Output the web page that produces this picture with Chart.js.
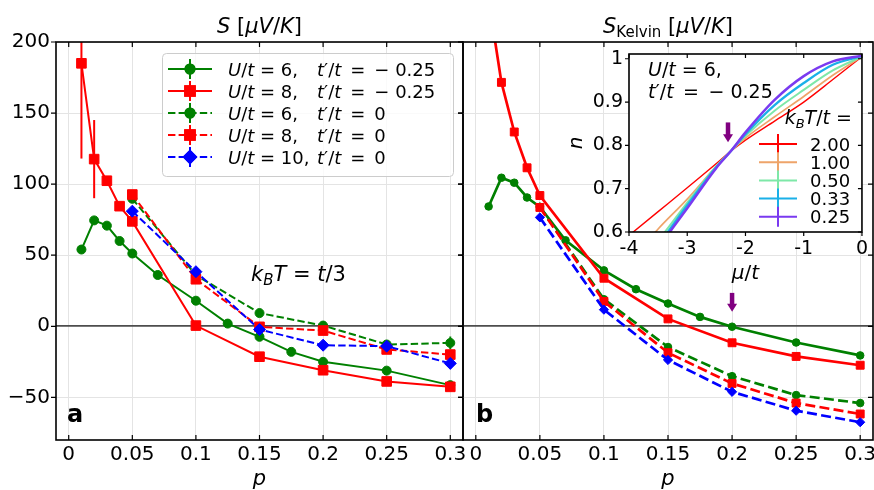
<!DOCTYPE html>
<html><head><meta charset="utf-8">
<script src="https://cdn.jsdelivr.net/npm/chart.js@4.4.1/dist/chart.umd.min.js"></script>
<style>
html,body{margin:0;padding:0;background:#fff;}
#wrap{position:relative;width:874px;height:490px;overflow:hidden;background:#fff;}
canvas{position:absolute;left:0;top:0;}
</style></head><body>
<div id="wrap">
<canvas id="cA" width="874" height="490"></canvas>
<canvas id="cB" width="900" height="490"></canvas>
<canvas id="cI" width="874" height="490"></canvas>
</div>
<script>
// ---------------- DATA ----------------
const xTicks = [0, 0.05, 0.1, 0.15, 0.2, 0.25, 0.3];
const xTickLabels = ['0', '0.05', '0.1', '0.15', '0.2', '0.25', '0.3'];
const yTicks = [-50, 0, 50, 100, 150, 200];
const yTickLabels = ['\u221250', '0', '50', '100', '150', '200'];

// panel a : S
const pS  = [0.01, 0.02, 0.03, 0.04, 0.05, 0.07, 0.1, 0.125, 0.15, 0.175, 0.2, 0.25, 0.3];
const pR  = [0.01, 0.02, 0.03, 0.04, 0.05, 0.1, 0.15, 0.2, 0.25, 0.3];
const pD  = [0.05, 0.1, 0.15, 0.2, 0.25, 0.3];
const sA_U6_tm  = [54, 74.5, 70.8, 60, 51.2, 36.1, 18, 1.9, -7.4, -18, -25, -31.2, -41.4];
const sA_U8_tm  = [185, 117.6, 102.4, 84.5, 73.8, 0.5, -21.4, -30.9, -38.8, -42.6];
const eA_U8_tm  = [67, 27.5, 0, 0, 0, 0, 0, 0, 0, 0];
const sA_U6_t0  = [89.7, 36, 9.3, 0.5, -12.8, -11.7];
const eA_U6_t0  = [0, 0, 0, 0, 1.5, 4.5];
const sA_U8_t0  = [92.7, 33.1, -0.4, -3, -16.3, -19.9];
const sA_U10_t0 = [81, 38.4, -2.3, -13.3, -14, -26.1];

// panel b : S_Kelvin
const sB_U6_tm  = [84.3, 104.5, 101, 90.6, 84, 60.5, 39.3, 26.1, 16, 6.6, -0.3, -11.4, -20.5];
const sB_U8_tm  = [230, 171.6, 136.7, 111.5, 92, 33.8, 5.2, -11.6, -21.2, -27.4];
const sB_U6_t0  = [84, 19, -14.6, -35.1, -48.4, -54];
const sB_U8_t0  = [83.6, 17.5, -18.6, -40.2, -54, -61.7];
const sB_U10_t0 = [76.6, 11.7, -23.7, -46.1, -59.4, -67.5];

// inset : n(mu)
const muTicks = [-4, -3, -2, -1, 0];
const muTickLabels = ['-4', '-3', '-2', '-1', '0'];
const nTicks = [0.6, 0.7, 0.8, 0.9, 1.0];
const nTickLabels = ['0.6', '0.7', '0.8', '0.9', '1'];
const mu = [-4, -3.5, -3, -2.5, -2.25, -2, -1.5, -1, -0.5, 0];
const n_T200 = [0.592, 0.647, 0.702, 0.758, 0.787, 0.812, 0.856, 0.900, 0.952, 1.005];
const n_T100 = [0.53, 0.607, 0.676, 0.752, 0.787, 0.817, 0.866, 0.913, 0.962, 1.005];
const n_T050 = [0.50, 0.58, 0.668, 0.752, 0.787, 0.822, 0.880, 0.928, 0.973, 1.005];
const n_T033 = [0.49, 0.57, 0.662, 0.750, 0.787, 0.826, 0.893, 0.944, 0.986, 1.006];
const n_T025 = [0.47, 0.563, 0.655, 0.748, 0.787, 0.830, 0.905, 0.960, 0.994, 1.007];
const tempLabels = ['2.00', '1.00', '0.50', '0.33', '0.25'];

// ---------------- HELPERS ----------------
const FAM = '"DejaVu Sans"';
const F = (size, it, bold) => `${it ? 'italic ' : ''}${bold ? 'bold ' : ''}${size}px ${FAM}`;
const zip = (xs, ys) => xs.map((x, i) => ({x: x, y: ys[i]}));
function rich(ctx, x, y, segs, align) {
  let w = 0;
  for (const s of segs) { ctx.font = s[1]; w += ctx.measureText(s[0]).width; }
  let cx = align === 'center' ? x - w / 2 : align === 'right' ? x - w : x;
  ctx.textAlign = 'left'; ctx.textBaseline = 'alphabetic'; ctx.fillStyle = '#000';
  for (const s of segs) { ctx.font = s[1]; ctx.fillText(s[0], cx, y + (s[2] || 0)); cx += ctx.measureText(s[0]).width; }
}
function setTicks(vals) { return s => { s.ticks = vals.map(v => ({value: v})); }; }

const GREEN = '#008000', RED = '#ff0000', BLUE = '#0000ff';

function series(xs, ys, color, style, dashed, r, lw, dash, order, err) {
  return {
    data: zip(xs, ys), borderColor: color, backgroundColor: color,
    borderWidth: lw, borderDash: dashed ? dash : [],
    pointStyle: style, pointRadius: r, pointBackgroundColor: color, pointBorderColor: color,
    pointBorderWidth: 1, tension: 0, order: order, errorBars: err || null, fill: false
  };
}

const errorBarPlugin = {
  id: 'errbars',
  beforeDatasetsDraw(chart) {
    const {ctx, chartArea: a, scales: {x, y}} = chart;
    ctx.save();
    ctx.beginPath(); ctx.rect(a.left, a.top, a.right - a.left, a.bottom - a.top); ctx.clip();
    chart.data.datasets.forEach(ds => {
      if (!ds.errorBars) return;
      ctx.strokeStyle = ds.borderColor; ctx.lineWidth = ds.borderWidth;
      ds.data.forEach((pt, i) => {
        const e = ds.errorBars[i]; if (!e) return;
        const px = x.getPixelForValue(pt.x);
        ctx.beginPath(); ctx.moveTo(px, y.getPixelForValue(pt.y - e)); ctx.lineTo(px, y.getPixelForValue(pt.y + e)); ctx.stroke();
      });
    });
    ctx.restore();
  }
};

function frameAndTicks(chart, xt, yt, L, opts) {
  const {ctx, chartArea: a, scales: {x, y}} = chart;
  ctx.save();
  ctx.strokeStyle = '#000'; ctx.lineWidth = 1.2;
  ctx.beginPath();
  xt.forEach(v => {
    const px = x.getPixelForValue(v);
    if (opts.bottomOut) { ctx.moveTo(px, a.bottom); ctx.lineTo(px, a.bottom + L); }
    else { ctx.moveTo(px, a.bottom); ctx.lineTo(px, a.bottom - L); }
    ctx.moveTo(px, a.top); ctx.lineTo(px, a.top + (opts.topOut ? -L : L));
  });
  yt.forEach(v => {
    const py = y.getPixelForValue(v);
    ctx.moveTo(a.left, py); ctx.lineTo(a.left - L, py);
    ctx.moveTo(a.right, py); ctx.lineTo(a.right - L, py);
  });
  ctx.stroke();
  ctx.lineWidth = 1.6;
  ctx.strokeRect(a.left, a.top, a.right - a.left, a.bottom - a.top);
  ctx.restore();
}

function arrow(ctx, x, yTop, yTip, color) {
  ctx.save();
  ctx.fillStyle = color;
  const headLen = 8, shaftW = 4.5, headW = 10;
  ctx.fillRect(x - shaftW / 2, yTop, shaftW, (yTip - yTop) - headLen + 1);
  ctx.beginPath();
  ctx.moveTo(x - headW / 2, yTip - headLen); ctx.lineTo(x + headW / 2, yTip - headLen); ctx.lineTo(x, yTip); ctx.closePath(); ctx.fill();
  ctx.restore();
}

function mainOptions(padLeft, padRight, showY) {
  return {
    responsive: false, animation: false, devicePixelRatio: 1, events: [],
    layout: {padding: {left: padLeft, right: padRight, top: 42, bottom: 0}},
    plugins: {legend: {display: false}, tooltip: {enabled: false}, title: {display: false}},
    scales: {
      x: {
        type: 'linear', min: -0.01, max: 0.31,
        afterBuildTicks: setTicks(xTicks), afterFit: s => { s.height = 50; },
        ticks: {callback: (v, i) => xTickLabels[i], autoSkip: false, maxRotation: 0, font: {family: 'DejaVu Sans', size: 20}, color: '#000', padding: 3},
        grid: {color: '#e4e4e4', lineWidth: 1, drawTicks: false}, border: {display: false}
      },
      y: {
        type: 'linear', min: -80, max: 200,
        afterBuildTicks: setTicks(yTicks), afterFit: s => { s.width = showY ? 56 : 0; },
        ticks: {display: showY, callback: (v, i) => yTickLabels[i], autoSkip: false, font: {family: 'DejaVu Sans', size: 20}, color: '#000', padding: 6},
        grid: {
          color: c => (c.tick && c.tick.value === 0) ? '#4d4d4d' : '#e4e4e4',
          lineWidth: c => (c.tick && c.tick.value === 0) ? 1.8 : 1,
          drawTicks: false
        },
        border: {display: false}
      }
    }
  };
}

// ---------------- PANEL A ----------------
const dashA = [7.4, 3.2];
const dsA = [
  series(pS, sA_U6_tm, GREEN, 'circle', false, 4.5, 2, dashA, 5),
  series(pR, sA_U8_tm, RED, 'rect', false, 6.8, 2, dashA, 4, eA_U8_tm),
  series(pD, sA_U6_t0, GREEN, 'circle', true, 4.5, 2, dashA, 3, eA_U6_t0),
  series(pD, sA_U8_t0, RED, 'rect', true, 6.8, 2, dashA, 2),
  series(pD, sA_U10_t0, BLUE, 'rectRot', true, 6, 2, dashA, 1)
];

const EQ = '\u2002=\u2002';
const tPrime = [['t', F(18, 1)], ['\u2032', F(18)], ['/', F(18)], ['t', F(18, 1)]];
const legendRows = [
  {c: GREEN, s: 'circle', r: 4.5, dash: false, U: '6,', tp: tPrime.concat([[EQ + '\u2212 0.25', F(18)]])},
  {c: RED, s: 'rect', r: 6.8, dash: false, U: '8,', tp: tPrime.concat([[EQ + '\u2212 0.25', F(18)]])},
  {c: GREEN, s: 'circle', r: 4.5, dash: true, U: '6,', tp: tPrime.concat([[EQ + '0', F(18)]])},
  {c: RED, s: 'rect', r: 6.8, dash: true, U: '8,', tp: tPrime.concat([[EQ + '0', F(18)]])},
  {c: BLUE, s: 'rectRot', r: 6, dash: true, U: '10,', tp: tPrime.concat([[EQ + '0', F(18)]])}
];

const panelAPlugin = {
  id: 'panelA',
  afterDraw(chart) {
    const ctx = chart.ctx;
    frameAndTicks(chart, xTicks, yTicks, 5, {});
    // legend box
    ctx.save();
    ctx.fillStyle = 'rgba(255,255,255,0.8)'; ctx.strokeStyle = '#cccccc'; ctx.lineWidth = 1;
    ctx.beginPath(); ctx.roundRect(162.5, 53.5, 291, 123, 4); ctx.fill(); ctx.stroke();
    legendRows.forEach((row, i) => {
      const cy = 69 + i * 22;
      ctx.strokeStyle = row.c; ctx.lineWidth = 2;
      ctx.setLineDash(row.dash ? dashA : []);
      ctx.beginPath(); ctx.moveTo(168, cy); ctx.lineTo(212, cy); ctx.stroke();
      ctx.setLineDash([]);
      ctx.beginPath(); ctx.moveTo(190, cy - 10); ctx.lineTo(190, cy + 10); ctx.stroke();
      ctx.fillStyle = row.c;
      Chart.helpers.drawPoint(ctx, {pointStyle: row.s, radius: row.r, rotation: 0, borderWidth: 1}, 190, cy);
      ctx.fill(); ctx.stroke();
      rich(ctx, 228, cy + 7, [['U', F(18, 1)], ['/', F(18)], ['t', F(18, 1)], [' = ' + row.U, F(18)]], 'left');
      rich(ctx, 317, cy + 7, row.tp, 'left');
    });
    // title
    rich(ctx, 259.5, 33, [['S', F(21, 1)], [' [', F(21)], ['\u03bcV', F(21, 1)], ['/', F(21)], ['K', F(21, 1)], [']', F(21)]], 'center');
    // k_B T = t/3
    rich(ctx, 251, 281, [['k', F(21, 1)], ['B', F(15, 1), 4], ['T', F(21, 1)], [' = ', F(21)], ['t', F(21, 1)], ['/3', F(21)]], 'left');
    // panel letter
    rich(ctx, 67, 422, [['a', F(24, 0, 1)]], 'left');
    // x label
    rich(ctx, 259.5, 485, [['p', F(21, 1)]], 'center');
    ctx.restore();
  }
};

new Chart(document.getElementById('cA').getContext('2d'), {
  type: 'line', data: {datasets: dsA},
  options: mainOptions(0, 874 - 463, true),
  plugins: [errorBarPlugin, panelAPlugin]
});

// ---------------- PANEL B ----------------
const dashB = [10, 4.3];
const dsB = [
  series(pS, sB_U6_tm, GREEN, 'circle', false, 3.8, 2.7, dashB, 5),
  series(pR, sB_U8_tm, RED, 'rect', false, 5.6, 2.7, dashB, 4),
  series(pD, sB_U6_t0, GREEN, 'circle', true, 3.8, 2.7, dashB, 3),
  series(pD, sB_U8_t0, RED, 'rect', true, 5.6, 2.7, dashB, 2),
  series(pD, sB_U10_t0, BLUE, 'rectRot', true, 4.6, 2.7, dashB, 1)
];

const panelBPlugin = {
  id: 'panelB',
  afterDraw(chart) {
    const ctx = chart.ctx;
    const {scales: {x, y}} = chart;
    frameAndTicks(chart, xTicks, yTicks, 5, {});
    rich(ctx, 668, 33, [['S', F(21, 1)], ['Kelvin', F(15), 4], [' [', F(21)], ['\u03bcV', F(21, 1)], ['/', F(21)], ['K', F(21, 1)], [']', F(21)]], 'center');
    rich(ctx, 476, 422, [['b', F(24, 0, 1)]], 'left');
    rich(ctx, 668, 485, [['p', F(21, 1)]], 'center');
    arrow(ctx, x.getPixelForValue(0.2), y.getPixelForValue(23.5), y.getPixelForValue(10.3), '#800080');
  }
};

new Chart(document.getElementById('cB').getContext('2d'), {
  type: 'line', data: {datasets: dsB},
  options: mainOptions(463, 900 - 873, false),
  plugins: [errorBarPlugin, panelBPlugin]
});

// ---------------- INSET ----------------
const insetColors = ['#ff0000', '#eea46a', '#7ee8a8', '#1ab0e8', '#7a3af0'];
const insetWidths = [1.4, 1.7, 2.0, 2.3, 2.5];
const insetSeries = [n_T200, n_T100, n_T050, n_T033, n_T025];
const dsI = insetSeries.map((ys, i) => ({
  data: zip(mu, ys), borderColor: insetColors[i], borderWidth: insetWidths[i],
  pointRadius: 0, cubicInterpolationMode: 'monotone', order: 5 - i, fill: false
}));

const insetPlugin = {
  id: 'inset',
  beforeDraw(chart) {
    const {ctx, chartArea: a} = chart;
    ctx.save(); ctx.fillStyle = '#fff'; ctx.fillRect(a.left, a.top, a.right - a.left, a.bottom - a.top); ctx.restore();
  },
  afterDraw(chart) {
    const {ctx, chartArea: a, scales: {x, y}} = chart;
    frameAndTicks(chart, muTicks, nTicks, 4, {bottomOut: true, topOut: false});
    rich(ctx, 648, 76, [['U', F(19, 1)], ['/', F(19)], ['t', F(19, 1)], [' = 6,', F(19)]], 'left');
    rich(ctx, 648, 98, [['t', F(19, 1)], ['\u2032', F(19)], ['/', F(19)], ['t', F(19, 1)], [EQ + '\u2212 0.25', F(19)]], 'left');
    rich(ctx, 852, 124, [['k', F(19, 1)], ['B', F(13, 1), 4], ['T', F(19, 1)], ['/', F(19)], ['t', F(19, 1)], [' =', F(19)]], 'right');
    ctx.save();
    tempLabels.forEach((lab, i) => {
      const cy = 144 + i * 18.2;
      ctx.strokeStyle = insetColors[i]; ctx.lineWidth = 2;
      ctx.beginPath(); ctx.moveTo(759, cy); ctx.lineTo(797, cy); ctx.moveTo(778, cy - 10); ctx.lineTo(778, cy + 10); ctx.stroke();
      rich(ctx, 810, cy + 6.5, [[lab, F(18)]], 'left');
    });
    ctx.restore();
    // axis labels
    rich(ctx, (a.left + a.right) / 2, 279, [['\u03bc', F(20, 1)], ['/', F(20)], ['t', F(20, 1)]], 'center');
    ctx.save();
    ctx.translate(582, (a.top + a.bottom) / 2);
    ctx.rotate(-Math.PI / 2);
    rich(ctx, 0, 0, [['n', F(20, 1)]], 'center');
    ctx.restore();
    arrow(ctx, x.getPixelForValue(-2.3), y.getPixelForValue(0.853), y.getPixelForValue(0.807), '#800080');
  }
};

new Chart(document.getElementById('cI').getContext('2d'), {
  type: 'line', data: {datasets: dsI},
  options: {
    responsive: false, animation: false, devicePixelRatio: 1, events: [],
    layout: {padding: {left: 629 - 40, right: 874 - 862, top: 54, bottom: 490 - 232 - 40}},
    plugins: {legend: {display: false}, tooltip: {enabled: false}},
    scales: {
      x: {
        type: 'linear', min: -4, max: 0,
        afterBuildTicks: setTicks(muTicks), afterFit: s => { s.height = 40; },
        ticks: {callback: (v, i) => muTickLabels[i], autoSkip: false, maxRotation: 0, font: {family: 'DejaVu Sans', size: 19}, color: '#000', padding: 6},
        grid: {display: false, drawTicks: false}, border: {display: false}
      },
      y: {
        type: 'linear', min: 0.6, max: 1.011,
        afterBuildTicks: setTicks(nTicks), afterFit: s => { s.width = 40; },
        ticks: {callback: (v, i) => nTickLabels[i], autoSkip: false, font: {family: 'DejaVu Sans', size: 19}, color: '#000', padding: 6},
        grid: {display: false, drawTicks: false}, border: {display: false}
      }
    }
  },
  plugins: [insetPlugin]
});
</script>
</body></html>
